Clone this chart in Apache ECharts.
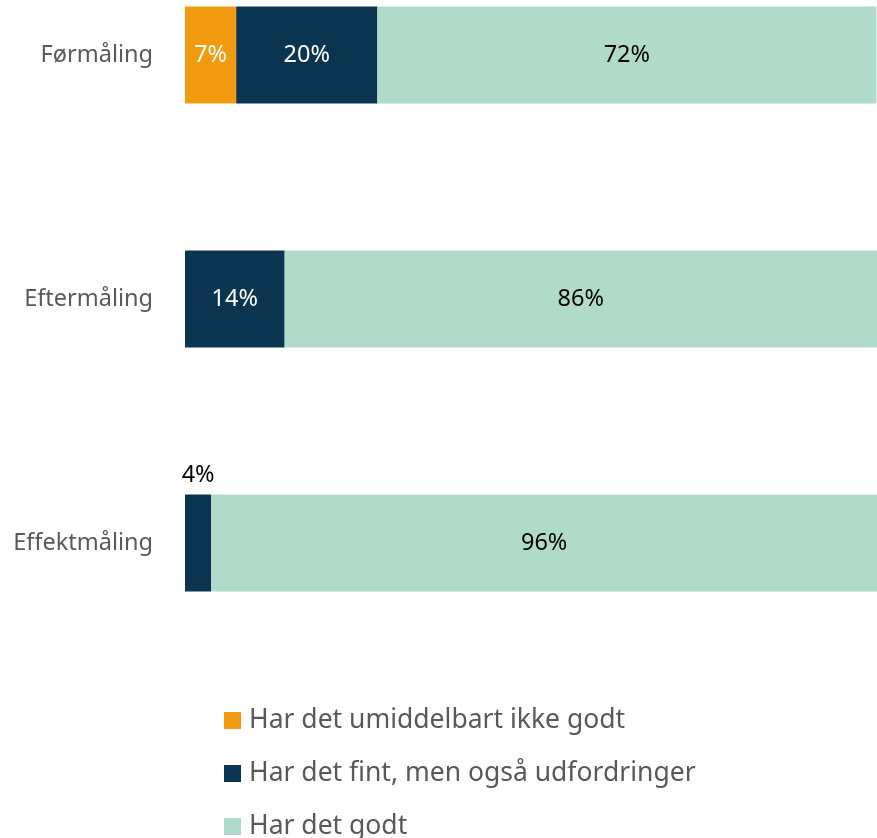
<!DOCTYPE html>
<html><head><meta charset="utf-8">
<script src="https://cdn.jsdelivr.net/npm/echarts@6/dist/echarts.min.js"></script>
<style>html,body{margin:0;padding:0;background:#fff}#c{width:877px;height:838px}</style>
</head><body><div id="c"></div>
<script>
const categories = ['Førmåling', 'Eftermåling', 'Effektmåling'];
const seriesNames = ['Har det umiddelbart ikke godt', 'Har det fint, men også udfordringer', 'Har det godt'];
const ikkeGodt = [7.4, null, null];
const fint = [20.4, 14.4, 3.8];
const godt = [72.1, 85.6, 96.2];
const colors = ['#F29B10', '#0B3451', '#B0DBCB'];
const labelColors = ['#ffffff', '#ffffff', '#000000'];

const chart = echarts.init(document.getElementById('c'));
const FONT = '"Noto Sans", sans-serif';
function mk(i, data) {
  return {
    name: seriesNames[i], type: 'bar', stack: 'a', barWidth: 97,
    itemStyle: { color: colors[i] },
    label: { show: true, position: 'inside', color: labelColors[i], fontSize: 23.5, fontFamily: FONT,
      formatter: p => p.value == null ? '' : Math.round(p.value) + '%' },
    data: data.map((v, j) => {
      if (i === 1 && v != null && v < 6) {
        return { value: v, label: { position: 'top', color: '#000', distance: 7 } };
      }
      return v;
    })
  };
}
chart.setOption({
  animation: false,
  color: colors,
  grid: { left: 185, right: 0, top: -67, height: 732, outerBoundsMode: 'none', containLabel: false },
  xAxis: { type: 'value', min: 0, max: 100, show: false },
  yAxis: { type: 'category', inverse: true, data: categories,
    axisLine: { show: false }, axisTick: { show: false },
    axisLabel: { color: '#595959', fontSize: 23.5, fontFamily: FONT, margin: 32 } },
  legend: { orient: 'vertical', left: 224, top: 707, height: 300, padding: 0, icon: 'rect', itemWidth: 17, itemHeight: 17,
    itemGap: 26, textStyle: { color: '#595959', fontSize: 26.5, fontFamily: FONT, lineHeight: 26, padding: [0,0,0,3] },
    data: seriesNames },
  series: [mk(0, ikkeGodt), mk(1, fint), mk(2, godt)]
});
</script></body></html>
